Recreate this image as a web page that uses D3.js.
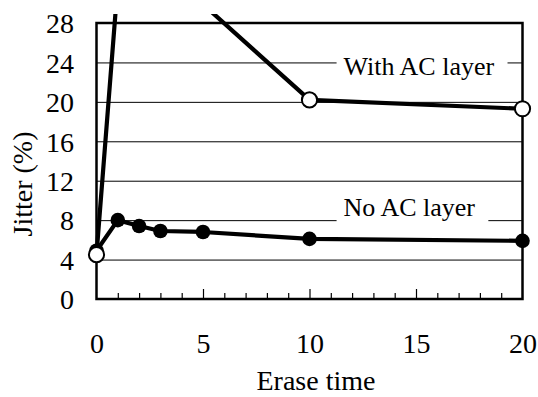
<!DOCTYPE html>
<html>
<head>
<meta charset="utf-8">
<script src="https://cdn.jsdelivr.net/npm/d3@7"></script>
</head>
<body style="margin:0; background:#fff">
<div id="chart"></div>
<script>
// Erase time (x) and jitter values (%)
const eraseTime = [0, 1, 2, 3, 5, 10, 20]
const jitterNoAC = [4.9, 8.0, 7.4, 6.9, 6.8, 6.1, 5.9]
// points at 1..5 lie above the top of the figure, only their lines show
const jitterWithAC = [4.5, 32, 32, 31, 29.9, 20.2, 19.3]
const xTicks = [0, 5, 10, 15, 20]
const yTicks = [0, 4, 8, 12, 16, 20, 24, 28]
const seriesLabels = ['With AC layer', 'No AC layer']

const W = 538, H = 397
const FONT = "'Liberation Serif', 'Times New Roman', serif"

const x = d3.scaleLinear().domain([0, 20]).range([96.5, 522.5])
const y = d3.scaleLinear().domain([0, 28]).range([299, 23])

const svg = d3.select('#chart')
  .append('svg')
  .attr('width', W)
  .attr('height', H)

// horizontal grid lines
svg.append('g')
  .attr('transform', `translate(${x(0)},0)`)
  .call(d3.axisLeft(y).tickValues(yTicks.slice(1, -1)).tickSize(-(x(20) - x(0))).tickFormat(''))
  .call(g => g.select('.domain').remove())
  .call(g => g.selectAll('.tick line').attr('stroke', '#000').attr('stroke-width', 1))

// y tick labels
svg.append('g')
  .attr('transform', `translate(${x(0)},0)`)
  .call(d3.axisLeft(y).tickValues(yTicks).tickSize(0).tickPadding(22.5))
  .call(g => g.select('.domain').remove())
  .call(g => g.selectAll('.tick text')
    .style('font-size', '28px')
    .style('font-family', FONT)
    .attr('fill', '#000')
    .attr('dy', '0.35em'))

// x tick labels
svg.append('g')
  .attr('transform', `translate(0,${y(0)})`)
  .call(d3.axisBottom(x).tickValues(xTicks).tickSize(0).tickPadding(34))
  .call(g => g.select('.domain').remove())
  .call(g => g.selectAll('.tick text')
    .style('font-size', '28px')
    .style('font-family', FONT)
    .attr('fill', '#000'))

// inward ticks on the bottom axis, minor every 1, longer at 5s
svg.append('g')
  .attr('transform', `translate(0,${y(0)})`)
  .call(d3.axisTop(x).tickValues(d3.range(1, 20).filter(d => d % 5)).tickSize(6).tickFormat(''))
  .call(g => g.select('.domain').remove())
  .call(g => g.selectAll('.tick line').attr('stroke-width', 1.2))
svg.append('g')
  .attr('transform', `translate(0,${y(0)})`)
  .call(d3.axisTop(x).tickValues([5, 10, 15]).tickSize(10).tickFormat(''))
  .call(g => g.select('.domain').remove())
  .call(g => g.selectAll('.tick line').attr('stroke-width', 1.2))

// plot frame
svg.append('rect')
  .attr('x', x(0))
  .attr('y', y(28))
  .attr('width', x(20) - x(0))
  .attr('height', y(0) - y(28))
  .attr('fill', 'none')
  .attr('stroke', '#000')
  .attr('stroke-width', 2.5)

// series labels sitting on grid lines with a white backing
const labelPos = [{ t: 11.6, v: 24, dy: 12.7 }, { t: 11.6, v: 8, dy: -4.5 }]
seriesLabels.forEach((s, i) => {
  const g = svg.append('g')
  const txt = g.append('text')
    .attr('x', x(labelPos[i].t))
    .attr('y', y(labelPos[i].v) + labelPos[i].dy)
    .style('font-size', '26px')
    .style('font-family', FONT)
    .attr('fill', '#000')
    .text(s)
  const bb = txt.node().getBBox()
  g.insert('rect', 'text')
    .attr('x', bb.x - 7)
    .attr('y', bb.y + 2)
    .attr('width', bb.width + 20)
    .attr('height', bb.height + 2)
    .attr('fill', '#fff')
})

// y axis title
svg.append('text')
  .attr('transform', 'rotate(-90)')
  .attr('x', -184)
  .attr('y', 32)
  .attr('text-anchor', 'middle')
  .attr('fill', '#000')
  .style('font-size', '28px')
  .style('font-family', FONT)
  .text('Jitter (%)')

// x axis title
svg.append('text')
  .attr('x', 316)
  .attr('y', 390)
  .attr('text-anchor', 'middle')
  .attr('fill', '#000')
  .style('font-size', '28px')
  .style('font-family', FONT)
  .text('Erase time')

// the figure is cut off just above the frame
svg.append('clipPath')
  .attr('id', 'cut')
  .append('rect')
  .attr('x', 0)
  .attr('y', 14)
  .attr('width', W)
  .attr('height', H - 14)

const noAC = eraseTime.map((t, i) => ({ t, v: jitterNoAC[i] }))
const withAC = eraseTime.map((t, i) => ({ t, v: jitterWithAC[i] }))

const line = d3.line()
  .x(d => x(d.t))
  .y(d => y(d.v))

const plot = svg.append('g').attr('clip-path', 'url(#cut)')

// No AC layer
plot.append('path')
  .datum(noAC)
  .attr('fill', 'none')
  .attr('stroke', '#000')
  .attr('stroke-width', 4.2)
  .attr('stroke-linejoin', 'round')
  .attr('d', line)
plot.selectAll('circle.no')
  .data(noAC)
  .join('circle')
  .attr('class', 'no')
  .attr('cx', d => x(d.t))
  .attr('cy', d => y(d.v))
  .attr('r', 7.3)
  .attr('fill', '#000')

// With AC layer
plot.append('path')
  .datum(withAC)
  .attr('fill', 'none')
  .attr('stroke', '#000')
  .attr('stroke-width', 4.2)
  .attr('stroke-linejoin', 'round')
  .attr('d', line)
plot.selectAll('circle.with')
  .data(withAC)
  .join('circle')
  .attr('class', 'with')
  .attr('cx', d => x(d.t))
  .attr('cy', d => y(d.v))
  .attr('r', 7.6)
  .attr('fill', '#fff')
  .attr('stroke', '#000')
  .attr('stroke-width', 2)
</script>
</body>
</html>
